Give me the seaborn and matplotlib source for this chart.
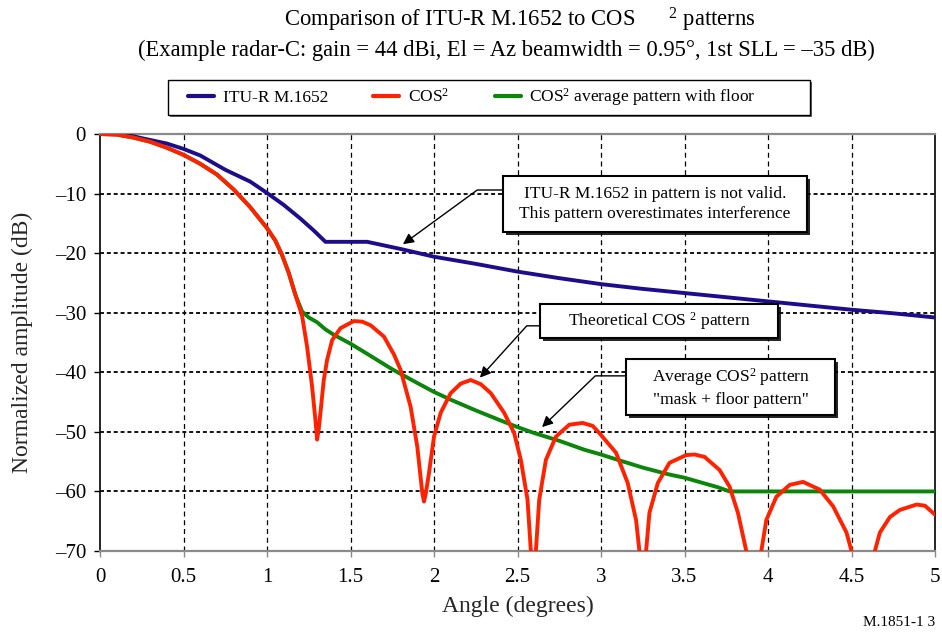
import matplotlib
matplotlib.use("Agg")
import matplotlib.pyplot as plt
import seaborn as sns
from matplotlib import patheffects
from matplotlib.lines import Line2D
from matplotlib.patches import Rectangle

# ITU-R M.1652 reference pattern (angle in degrees, normalized gain in dB)
itu_angle = [0.0, 0.14, 0.25, 0.4, 0.5, 0.6, 0.75, 0.9, 1.0, 1.1, 1.2, 1.28, 1.35,
             1.6, 1.8, 2.0, 2.25, 2.5, 2.75, 3.0, 3.25, 3.5, 3.75, 4.0, 4.25,
             4.5, 4.75, 5.0]
itu_db = [0.0, 0.0, -0.7, -1.6, -2.5, -3.6, -6.0, -8.0, -9.9, -11.9, -14.2, -16.2,
          -18.1, -18.1, -19.3, -20.6, -21.8, -23.1, -24.2, -25.2, -26.0, -26.7,
          -27.4, -28.1, -28.8, -29.5, -30.1, -30.8]

# Theoretical COS^2 aperture pattern
cos2_angle = [0.0, 0.1, 0.2, 0.3, 0.4, 0.5, 0.6, 0.7, 0.8, 0.9, 1.0, 1.05, 1.09,
              1.13, 1.17, 1.21, 1.24, 1.27, 1.29, 1.30, 1.31, 1.32, 1.34, 1.36,
              1.39, 1.44, 1.52, 1.57, 1.62, 1.70, 1.76, 1.80, 1.86, 1.90, 1.93,
              1.94, 1.95, 1.97, 2.0, 2.04, 2.10, 2.16, 2.22, 2.28, 2.34, 2.42,
              2.48, 2.52, 2.56, 2.58, 2.595, 2.61, 2.63, 2.67, 2.73, 2.81, 2.89,
              2.95, 2.99, 3.09, 3.16, 3.21, 3.23, 3.25, 3.27, 3.29, 3.34, 3.41,
              3.51, 3.56, 3.62, 3.71, 3.77, 3.82, 3.87, 3.915, 3.96, 3.99, 4.05,
              4.13, 4.21, 4.31, 4.39, 4.47, 4.50, 4.57, 4.64, 4.67, 4.73, 4.79,
              4.89, 4.94, 5.0]
cos2_db = [0.0, -0.1, -0.6, -1.3, -2.3, -3.5, -5.0, -6.8, -9.3, -12.3, -15.8, -17.9,
           -20.3, -23.3, -27.0, -30.5, -35.7, -42.4, -48.0, -51.3, -49.5, -46.8,
           -41.3, -37.9, -34.6, -32.6, -31.4, -31.5, -32.1, -34.0, -37.0, -39.6,
           -45.8, -52.5, -60.3, -61.7, -60.5, -56.9, -50.8, -46.8, -43.5, -41.9,
           -41.3, -42.0, -43.5, -46.8, -50.2, -54.7, -61.4, -70.0, -80.0, -70.0,
           -61.4, -54.7, -50.8, -48.8, -48.5, -49.0, -50.2, -53.5, -58.6, -64.8,
           -70.0, -80.0, -70.0, -63.6, -58.6, -55.2, -53.9, -53.8, -54.2, -56.4,
           -59.2, -63.6, -70.0, -80.0, -70.0, -64.8, -60.9, -58.9, -58.4, -59.7,
           -62.5, -66.9, -70.0, -80.0, -70.0, -66.9, -64.3, -63.1, -62.2, -62.4,
           -63.9]

# COS^2 average (mask) pattern with a -60 dB floor
avg_angle = [0.0, 0.1, 0.2, 0.3, 0.4, 0.5, 0.6, 0.7, 0.8, 0.9, 1.0, 1.05, 1.09,
             1.13, 1.17, 1.21, 1.25, 1.3, 1.35, 1.4, 1.5, 1.6, 1.75, 1.9, 2.0,
             2.1, 2.25, 2.4, 2.5, 2.6, 2.75, 2.9, 3.0, 3.1, 3.25, 3.4, 3.5, 3.6,
             3.7, 3.77, 4.0, 4.5, 5.0]
avg_db = [0.0, -0.1, -0.6, -1.3, -2.3, -3.5, -5.0, -6.8, -9.3, -12.3, -15.8, -17.9,
          -20.3, -23.3, -27.0, -29.8, -30.8, -31.6, -32.8, -33.7, -35.2, -36.9,
          -39.5, -41.8, -43.3, -44.6, -46.4, -48.1, -49.2, -50.2, -51.5, -53.0,
          -53.8, -54.7, -56.0, -57.1, -57.7, -58.5, -59.3, -60.0, -60.0, -60.0,
          -60.0]

x_ticks = [0, 0.5, 1, 1.5, 2, 2.5, 3, 3.5, 4, 4.5, 5]
x_tick_labels = ["0", "0.5", "1", "1.5", "2", "2.5", "3", "3.5", "4", "4.5", "5"]
y_ticks = [0, -10, -20, -30, -40, -50, -60, -70]
y_tick_labels = ["0", "\u201310", "\u201320", "\u201330", "\u201340", "\u201350",
                 "\u201360", "\u201370"]

series_labels = ["ITU-R M.1652", "COS$^{2}$", "COS$^{2}$ average pattern with floor"]

BLUE = "#1d0c8c"
RED = "#ff2200"
GREEN = "#0b860b"
GRAY = "#8a8a8a"

sns.set_theme(style="white")
plt.rcParams["font.family"] = ["Liberation Serif", "DejaVu Serif"]
plt.rcParams["mathtext.fontset"] = "custom"
plt.rcParams["mathtext.rm"] = "Liberation Serif"
plt.rcParams["mathtext.it"] = "Liberation Serif:italic"
plt.rcParams["mathtext.bf"] = "Liberation Serif:bold"
plt.rcParams["text.color"] = "black"

W, H = 942, 635
fig = plt.figure(figsize=(W / 100, H / 100), dpi=100)
ax = fig.add_axes([100 / W, 1 - 551 / H, 835 / W, 417 / H])

sns.lineplot(x=itu_angle, y=itu_db, color=BLUE, lw=2.8, ax=ax,
             estimator=None, sort=False, zorder=3)
sns.lineplot(x=avg_angle, y=avg_db, color=GREEN, lw=2.8, ax=ax,
             estimator=None, sort=False, zorder=3)
sns.lineplot(x=cos2_angle, y=cos2_db, color=RED, lw=2.8, ax=ax,
             estimator=None, sort=False, zorder=4)

ax.set_xlim(0, 5)
ax.set_ylim(-70, 0)
ax.set_xticks(x_ticks)
ax.set_xticklabels(x_tick_labels)
ax.set_yticks(y_ticks)
ax.set_yticklabels(y_tick_labels)

ax.tick_params(axis="y", left=True, direction="out", length=4, width=1,
               color="black", labelsize=15, pad=6, labelcolor="black")
ax.tick_params(axis="x", bottom=True, direction="out", length=4, width=1,
               color=GRAY, labelsize=15, pad=8, labelcolor="black")

# dashed grid: long thin dashes for verticals, short heavier dashes for horizontals
ax.xaxis.grid(True, color="black", linestyle=(0, (4, 3)), linewidth=0.9)
ax.yaxis.grid(True, color="black", linestyle=(0, (2.2, 1.6)), linewidth=1.3)
for t in ax.xaxis.get_major_ticks():
    if t.get_loc() in (0, 5):
        t.gridline.set_visible(False)
for t in ax.yaxis.get_major_ticks():
    if t.get_loc() in (0, -70):
        t.gridline.set_visible(False)

for side in ("left", "right"):
    ax.spines[side].set_color("black")
    ax.spines[side].set_linewidth(1.2)
for side in ("top", "bottom"):
    ax.spines[side].set_color(GRAY)
    ax.spines[side].set_linewidth(1.6)

ax.set_xlabel("Angle (degrees)", fontsize=17)
ax.set_ylabel("Normalized amplitude (dB)", fontsize=17)
ax.xaxis.set_label_coords(0.5, -0.108)
ax.yaxis.set_label_coords(-0.080, 0.5)

# title
fig.text(520 / W, 1 - 20 / H, "Comparison of ITU-R M.1652 to COS      $^{2}$ patterns",
         ha="center", va="center", fontsize=16.3)
fig.text(506 / W, 1 - 50 / H,
         "(Example radar-C: gain = 44 dBi, El = Az beamwidth = 0.95\u00b0, 1st SLL = \u201335 dB)",
         ha="center", va="center", fontsize=16.3)

shadow = [patheffects.withSimplePatchShadow(offset=(2, -2), shadow_rgbFace="black",
                                            alpha=0.85)]

# legend frame drawn as its own box, entries placed inside it
leg_x0, leg_x1, leg_top, leg_bot = 168, 810, 80, 115
frame = Rectangle((leg_x0 / W, 1 - leg_bot / H), (leg_x1 - leg_x0) / W,
                  (leg_bot - leg_top) / H, transform=fig.transFigure,
                  facecolor="white", edgecolor="black", lw=1.0, zorder=1)
frame.set_path_effects([patheffects.withSimplePatchShadow(offset=(1.5, -1.5),
                                                          shadow_rgbFace="0.4",
                                                          alpha=1)])
fig.patches.append(frame)
handles = [Line2D([0], [0], color=c, lw=3) for c in (BLUE, RED, GREEN)]
leg = fig.legend(handles, series_labels, loc="center left",
                 bbox_to_anchor=(176 / W, 1 - (leg_top + leg_bot) / 2 / H), ncol=3,
                 fontsize=12.5, frameon=False, handlelength=1.5, handletextpad=0.5,
                 columnspacing=2.6, borderpad=0.2)

# annotation boxes with shadows


def note_box(x0, x1, y_bot, y_top, text):
    r = Rectangle((x0, y_bot), x1 - x0, y_top - y_bot, facecolor="white",
                  edgecolor="black", lw=1.5, zorder=6)
    r.set_path_effects(shadow)
    ax.add_patch(r)
    ax.text((x0 + x1) / 2, (y_bot + y_top) / 2, text, ha="center", va="center",
            multialignment="center", fontsize=12.5, zorder=7, linespacing=1.35)


def note_arrow(start, tip, angle):
    ax.annotate("", xy=tip, xytext=start, zorder=5,
                arrowprops=dict(arrowstyle="-|>", color="black", lw=1.0,
                                mutation_scale=16, shrinkA=0, shrinkB=0,
                                connectionstyle=f"angle,angleA=0,angleB={angle},rad=0"))


note_box(2.413, 4.234, -16.45, -7.05,
         "ITU-R M.1652 in pattern is not valid.\nThis pattern overestimates interference")
note_arrow((2.413, -9.4), (1.814, -18.5), 36.1)

note_box(2.635, 4.060, -34.25, -28.54, "Theoretical COS $^{2}$ pattern")
note_arrow((2.635, -32.2), (2.275, -40.9), 47.9)

note_box(3.150, 4.401, -47.17, -37.77,
         "Average COS$^{2}$ pattern\n\"mask + floor pattern\"")
note_arrow((3.150, -40.6), (2.647, -49.2), 43.9)

fig.text(935 / W, 1 - 622 / H, "M.1851-1 3", ha="right", va="center", fontsize=11)

fig.savefig("out.png", dpi=100)
